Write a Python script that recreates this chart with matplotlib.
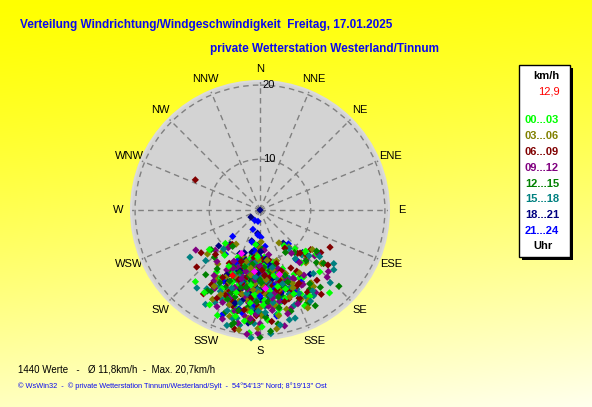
import numpy as np
import matplotlib
matplotlib.use('Agg')
import matplotlib.pyplot as plt
from matplotlib.patches import Rectangle

plt.rcParams['font.family'] = ['Liberation Sans', 'DejaVu Sans']

# %% Data: wind direction (deg) / speed (km/h), grouped by hour band
dir_00 = [178, 185, 192, 170, 200, 165, 210, 188, 175, 160, 195, 182, 172, 205, 215, 158, 168, 190,
          180, 198, 186, 150, 176, 202, 163, 194, 184, 173, 208, 222, 140, 187, 179, 196, 169, 183,
          181, 174, 189, 166, 197, 184, 177, 203, 159, 191, 186, 171, 210, 179, 195, 164, 182, 199, 173, 188,
          154, 206, 176, 192, 168, 185, 201, 180, 162, 214, 187, 175, 196, 170, 183, 152, 209, 178, 193, 167,
          226, 138, 218, 146, 232, 132, 128, 136, 142, 150, 155, 147, 133, 158, 185, 202]
spd_00 = [12.5, 11.0, 13.8, 14.2, 12.0, 10.5, 15.5, 16.8, 9.5, 13.0, 17.5, 8.8, 11.8, 10.2, 13.6, 15.0, 16.2, 9.0,
          14.5, 15.8, 12.8, 14.0, 18.2, 16.5, 12.2, 10.8, 11.5, 13.2, 17.8, 16.4, 17.9, 7.5, 19.0, 13.9, 17.0, 15.2,
          10.4, 11.6, 12.9, 13.4, 11.2, 14.8, 15.6, 12.6, 11.8, 9.8, 16.0, 12.2, 14.0, 13.0, 16.6, 15.8, 10.0, 12.8, 14.4, 18.4,
          16.0, 15.2, 10.8, 11.4, 12.4, 17.2, 13.8, 11.0, 14.6, 16.8, 13.6, 12.0, 15.0, 17.6, 9.4, 13.2, 12.0, 16.2, 18.0, 14.0,
          9.6, 10.2, 11.0, 8.8, 12.0, 11.6, 13.0, 15.0, 12.4, 16.8, 17.6, 14.2, 11.6, 15.6, 19.8, 18.6]

dir_03 = [182, 176, 190, 168, 198, 185, 172, 205, 160, 193, 180, 188, 165, 201, 175, 212, 155, 186,
          170, 196, 183, 178, 208, 162, 191, 174, 199, 187, 145, 218, 181, 167, 194, 179, 189, 203,
          177, 186, 169, 193, 181, 174, 200, 163, 189, 183, 171, 207, 179, 195, 166, 187, 158, 198, 176, 191,
          184, 172, 203, 161, 188, 180, 196, 168, 211, 185, 175, 192, 156, 182, 199, 170, 189, 178, 205, 164,
          222, 142, 230, 135, 215, 150, 131, 139, 145, 152, 157, 127, 148, 154, 172, 190]
spd_03 = [11.5, 13.0, 10.8, 12.6, 14.4, 9.2, 15.8, 11.2, 14.8, 16.0, 8.0, 12.9, 17.2, 13.5, 10.0, 14.2, 16.6, 18.0,
          11.0, 12.2, 15.0, 7.0, 17.0, 10.4, 13.3, 16.3, 9.8, 14.6, 15.4, 12.6, 19.2, 13.8, 11.8, 17.6, 10.2, 15.6,
          12.4, 10.6, 15.2, 13.8, 14.6, 11.8, 12.8, 13.2, 15.6, 9.0, 16.4, 13.6, 12.0, 10.4, 14.4, 17.0, 12.6, 16.8, 14.8, 11.4,
          13.4, 10.0, 14.0, 15.8, 12.2, 16.6, 18.2, 11.6, 15.4, 14.2, 12.8, 15.0, 14.2, 9.8, 13.0, 17.8, 11.2, 13.6, 16.0, 12.4,
          10.8, 9.4, 12.6, 12.2, 8.6, 8.0, 14.4, 12.8, 16.0, 17.2, 14.8, 12.2, 13.4, 18.0, 19.4, 19.6]

dir_06 = [295, 118, 228, 180, 187, 172, 195, 165, 203, 178, 190, 158, 184, 170, 199, 176, 210, 162,
          193, 181, 168, 206, 186, 152, 174, 197, 183, 214, 163, 189, 177, 201, 171, 192, 130, 125,
          183, 175, 191, 167, 198, 186, 179, 204, 160, 194, 181, 172, 209, 188, 164, 196, 177, 185, 154, 202,
          170, 190, 182, 199, 165, 187, 174, 213, 180, 193, 161, 206, 184, 176, 197, 168, 189, 150, 200, 178,
          219, 139, 234, 128, 225, 147, 134, 141, 149, 156, 129, 144, 152, 137]
spd_06 = [13.0, 14.1, 14.9, 12.0, 13.4, 11.2, 14.6, 12.8, 10.6, 15.6, 9.4, 14.0, 16.8, 10.0, 12.4, 13.8, 11.6, 16.0,
          17.4, 8.6, 15.0, 13.0, 11.0, 12.2, 18.4, 16.2, 14.4, 17.0, 10.8, 12.6, 9.8, 15.2, 13.6, 19.6, 14.6, 13.4,
          11.8, 13.2, 12.6, 14.8, 11.4, 15.4, 10.8, 14.2, 15.0, 13.6, 16.4, 12.4, 13.8, 10.2, 13.4, 16.8, 14.6, 12.0, 14.8, 15.8,
          11.6, 14.0, 17.6, 12.8, 16.2, 9.6, 13.0, 15.4, 11.0, 15.0, 12.0, 16.6, 18.2, 12.2, 13.2, 14.4, 17.0, 16.2, 10.6, 11.4,
          9.0, 11.0, 13.2, 12.0, 11.8, 9.2, 12.0, 15.6, 13.0, 16.4, 15.2, 17.4, 14.6, 11.2]

dir_09 = [185, 178, 192, 170, 200, 165, 188, 175, 207, 158, 182, 195, 168, 213, 180, 190, 172, 198,
          162, 186, 176, 204, 154, 193, 181, 169, 209, 187, 146, 197, 179, 220, 174, 191, 184, 166,
          179, 188, 171, 196, 183, 166, 201, 175, 192, 160, 186, 210, 173, 198, 181, 168, 205, 190, 156, 194,
          177, 184, 163, 199, 187, 170, 215, 182, 193, 159, 202, 176, 189, 165, 207, 180, 195, 172, 185, 150,
          228, 136, 220, 144, 238, 130, 127, 135, 143, 151, 158, 146, 132, 154, 168, 186, 199]
spd_09 = [12.2, 14.0, 11.0, 13.6, 15.2, 11.8, 17.8, 10.4, 13.0, 15.4, 9.6, 16.4, 12.0, 14.8, 18.6, 13.2, 16.6, 10.8,
          17.2, 15.0, 11.4, 17.6, 13.8, 14.2, 19.8, 9.2, 12.6, 16.0, 16.8, 13.4, 15.6, 12.4, 8.4, 18.8, 10.0, 14.6,
          13.0, 12.4, 14.6, 12.6, 15.8, 13.4, 11.6, 16.4, 14.0, 12.2, 10.6, 15.6, 17.0, 14.4, 11.8, 16.0, 12.0, 15.2, 15.6, 17.4,
          13.8, 12.8, 11.6, 16.0, 10.2, 14.8, 14.2, 17.4, 11.8, 13.4, 16.8, 12.0, 14.2, 17.8, 11.0, 10.8, 13.0, 15.4, 18.0, 15.0,
          11.4, 12.4, 9.8, 10.4, 13.6, 13.0, 13.2, 16.2, 12.2, 15.0, 17.0, 14.0, 15.8, 13.6, 19.2, 20.0, 18.8]

dir_12 = [180, 134, 220, 183, 176, 190, 168, 197, 172, 186, 160, 204, 179, 193, 165, 211, 188, 174,
          199, 156, 182, 170, 195, 163, 207, 185, 177, 148, 192, 171, 202, 187, 216, 167, 181, 194,
          184, 173, 191, 178, 199, 166, 187, 181, 205, 162, 194, 175, 189, 169, 201, 183, 157, 196, 177, 209,
          186, 171, 192, 164, 180, 198, 174, 213, 188, 159, 203, 182, 195, 168, 176, 190, 153, 185, 200, 179,
          224, 141, 231, 133, 217, 149, 130, 138, 146, 153, 159, 142, 126, 150, 175, 193]
spd_12 = [20.3, 18.1, 14.8, 12.4, 13.6, 10.6, 14.4, 11.8, 16.0, 9.0, 13.2, 14.8, 17.4, 12.8, 15.6, 16.2, 11.2, 10.2,
          18.0, 15.0, 14.0, 12.0, 16.8, 17.6, 12.6, 15.4, 8.2, 16.0, 13.0, 18.8, 10.4, 14.8, 13.2, 11.0, 16.6, 19.2,
          12.2, 14.6, 13.8, 11.4, 15.2, 12.8, 16.6, 10.8, 11.8, 14.6, 14.2, 15.8, 12.4, 16.8, 13.6, 9.6, 16.8, 15.6, 17.8, 14.6,
          13.0, 11.6, 17.2, 14.0, 12.8, 12.2, 15.0, 16.4, 10.6, 12.8, 13.8, 15.8, 11.2, 15.4, 11.0, 14.0, 17.4, 18.4, 16.2, 13.2,
          12.2, 10.6, 11.8, 13.8, 9.2, 9.8, 14.6, 12.6, 15.4, 17.6, 13.8, 16.6, 12.8, 18.2, 19.6, 18.9]

dir_15 = [184, 126, 219, 212, 206, 210, 175, 181, 188, 170, 196, 163, 185, 178, 200, 167, 192, 174,
          157, 203, 183, 171, 189, 197, 152, 179, 186, 165, 194, 173, 208, 160, 190, 177, 199, 182,
          187, 176, 193, 169, 201, 182, 173, 208, 161, 190, 185, 166, 198, 179, 204, 155, 188, 172, 195, 183,
          170, 200, 178, 192, 163, 186, 214, 175, 197, 181, 158, 189, 206, 168, 194, 177, 184, 148, 202, 173,
          227, 137, 223, 143, 236, 129, 133, 140, 147, 155, 128, 144, 151, 136, 170, 196, 162]
spd_15 = [20.4, 15.7, 16.9, 15.2, 17.2, 18.0, 19.9, 13.0, 14.6, 12.6, 16.2, 11.6, 17.0, 10.8, 13.4, 15.8, 18.2, 14.0,
          13.4, 12.0, 11.2, 17.6, 9.8, 14.8, 16.6, 15.4, 12.2, 18.6, 10.6, 13.8, 15.0, 17.0, 19.0, 16.4, 11.4, 14.2,
          12.8, 14.4, 13.6, 14.2, 11.6, 15.6, 13.2, 13.8, 15.4, 11.8, 16.8, 12.8, 17.6, 12.0, 16.4, 15.2, 10.2, 16.0, 13.4, 18.6,
          15.2, 14.6, 11.4, 16.2, 13.8, 10.4, 16.2, 13.0, 12.8, 17.0, 14.6, 14.8, 15.6, 11.2, 18.4, 17.2, 12.4, 17.0, 12.8, 15.0,
          13.4, 11.6, 10.4, 9.6, 14.8, 16.2, 12.4, 14.6, 16.4, 15.8, 13.6, 11.4, 17.4, 17.0, 19.0, 19.4, 18.6]

dir_18 = [0, 232, 186, 195, 178, 190, 172, 200, 184, 168, 193, 180, 205, 175, 188, 163, 197, 182,
          170, 191, 177, 210, 186, 166, 199,
          181, 175, 189, 170, 196, 184, 178, 201, 166, 192, 186, 173, 207, 180, 194, 162, 188, 176, 198, 183,
          169, 191, 179, 204, 187, 172, 195, 182, 158, 200, 221, 145, 229, 135, 148, 156, 142]
spd_18 = [0.0, 3.2, 5.5, 7.0, 8.2, 9.0, 10.2, 11.0, 7.6, 12.4, 13.0, 14.2, 9.6, 11.8, 15.6, 13.4, 16.6, 12.6,
          10.8, 8.8, 17.6, 14.0, 18.6, 15.0, 12.0,
          9.4, 10.6, 11.4, 12.8, 10.2, 13.6, 12.2, 12.6, 13.8, 11.6, 14.8, 9.8, 13.2, 15.4, 14.6, 14.4, 10.0, 16.2, 12.0, 17.2,
          11.0, 15.8, 8.6, 14.0, 13.0, 15.0, 16.4, 11.8, 15.6, 9.2, 9.2, 8.4, 10.6, 11.4, 13.6, 16.4, 14.4]

dir_21 = [207, 190, 200, 185, 178, 194, 172, 188, 182, 198, 176, 205, 168, 192, 185, 180, 196, 174,
          187, 202, 165, 183, 190, 177, 200,
          186, 179, 193, 172, 199, 183, 176, 204, 168, 190, 181, 196, 174, 188, 162, 201, 185, 178, 194, 170,
          187, 180, 207, 166, 192, 175, 198, 183, 171, 189, 226, 140, 218, 138, 150, 157, 144]
spd_21 = [3.2, 3.2, 5.0, 5.8, 6.2, 7.2, 7.8, 8.4, 9.2, 10.0, 10.6, 11.4, 12.0, 12.8, 13.6, 11.2, 14.4, 9.8,
          15.4, 13.0, 14.8, 16.2, 17.4, 12.4, 18.4,
          8.8, 9.6, 10.4, 11.0, 11.8, 12.2, 13.0, 10.8, 13.6, 14.0, 14.6, 12.0, 15.2, 10.2, 13.2, 15.8, 16.6, 11.6, 13.4, 14.4,
          12.6, 15.0, 14.2, 16.0, 17.0, 12.8, 16.8, 9.8, 17.8, 11.2, 8.0, 9.0, 10.8, 12.6, 14.6, 15.6, 11.6]

# last hour (highlighted) and current value
dir_last = [204, 163, 186, 176]
spd_last = [9.5, 12.3, 11.6, 14.0]
dir_now = [203]
spd_now = [12.9]

bands = ['00...03', '03...06', '06...09', '09...12', '12...15', '15...18', '18...21', '21...24']
band_colors = ['#00ff00', '#808000', '#800000', '#800080', '#008000', '#008080', '#000080', '#0000ff']
band_dirs = [dir_00, dir_03, dir_06, dir_09, dir_12, dir_15, dir_18, dir_21]
band_spds = [spd_00, spd_03, spd_06, spd_09, spd_12, spd_15, spd_18, spd_21]

compass = ['N', 'NNE', 'NE', 'ENE', 'E', 'ESE', 'SE', 'SSE',
           'S', 'SSW', 'SW', 'WSW', 'W', 'WNW', 'NW', 'NNW']
rings = [10, 20]
r_max = 20.5
n_values = 1440
mean_speed = '11,8'
max_speed = '20,7'
now_speed = '12,9'

# interleave the hour bands so that no colour sits entirely on top
pts_dir, pts_spd, pts_col = [], [], []
for i in range(max(len(d) for d in band_dirs)):
    for d, s, c in zip(band_dirs, band_spds, band_colors):
        if i < len(d):
            pts_dir.append(d[i])
            pts_spd.append(s[i])
            pts_col.append(c)

# %% Figure
W, H = 592, 407
fig = plt.figure(figsize=(W / 100, H / 100), dpi=100)

# yellow gradient background
bg = fig.add_axes([0, 0, 1, 1], zorder=0)
yy, xx = np.mgrid[0:1:200j, 0:1:200j]
t = np.clip(0.85 * yy + 0.15 * xx, 0, 1) ** 1.3
img = np.dstack([np.ones_like(t), np.ones_like(t), 0.93 * t])
bg.imshow(img, aspect='auto', extent=[0, 1, 0, 1], origin='upper')
bg.set_axis_off()

# polar rose, centre (260,210), radius 129 px
cx, cy, rad = 260, 210, 129
ax = fig.add_axes([(cx - rad) / W, (H - cy - rad) / H, 2 * rad / W, 2 * rad / H],
                  projection='polar', zorder=1)
ax.set_theta_zero_location('N')
ax.set_theta_direction(-1)
p = 1.3
ax.set_rscale('function', functions=(lambda r: np.sign(r) * np.abs(r) ** p,
                                     lambda r: np.sign(r) * np.abs(r) ** (1 / p)))
ax.set_rlim(0, r_max)
ax.set_facecolor('#d3d3d3')
ax.spines['polar'].set_color('#dadada')
ax.spines['polar'].set_linewidth(1.5)

ax.set_thetagrids(np.arange(0, 360, 22.5), labels=compass, fontsize=8)
ax.tick_params(axis='x', pad=-1.5)
ax.set_rgrids(rings, labels=[''] * len(rings))
ax.grid(True, color='#808080', linestyle=(0, (4, 3)), linewidth=1)
for rv in rings:
    ax.annotate(str(rv), (0, rv), xytext=(2, 0), textcoords='offset points',
                ha='left', va='center', fontsize=8)

ax.scatter(np.deg2rad(pts_dir), pts_spd, c=pts_col, marker='D', s=3.7 ** 2, linewidths=0,
           clip_on=False, zorder=3)
ax.scatter(np.deg2rad(dir_last), spd_last, c='#ff00ff', marker='D', s=3.7 ** 2, linewidths=0, zorder=3)
ax.scatter(np.deg2rad(dir_now), spd_now, c='#ff0000', marker='D', s=3.7 ** 2, linewidths=0, zorder=3)

# %% Texts
blue = '#0a0aee'
fig.text(20 / W, 1 - 25 / H, 'Verteilung Windrichtung/Windgeschwindigkeit  Freitag, 17.01.2025',
         color=blue, fontsize=8.5, fontweight='bold', va='center', ha='left')
fig.text(210 / W, 1 - 49 / H, 'private Wetterstation Westerland/Tinnum',
         color=blue, fontsize=8.5, fontweight='bold', va='center', ha='left')
fig.text(18 / W, 1 - 369 / H,
         f'{n_values} Werte   -   Ø {mean_speed}km/h  -  Max. {max_speed}km/h',
         color='black', fontsize=7, va='center', ha='left')
fig.text(18 / W, 1 - 386 / H,
         "© WsWin32  -  © private Wetterstation Tinnum/Westerland/Sylt  -  54°54'13'' Nord; 8°19'13'' Ost",
         color=blue, fontsize=5.3, va='center', ha='left')

# %% Legend box
bx0, bx1, by0, by1 = 519, 570, 65, 257
fig.patches.append(Rectangle(((bx0 + 3) / W, 1 - (by1 + 3) / H), (bx1 - bx0) / W, (by1 - by0) / H,
                             transform=fig.transFigure, facecolor='black', edgecolor='none', zorder=2))
fig.patches.append(Rectangle((bx0 / W, 1 - by1 / H), (bx1 - bx0) / W, (by1 - by0) / H,
                             transform=fig.transFigure, facecolor='white', edgecolor='black',
                             linewidth=1, zorder=3))
fig.text(546 / W, 1 - 76 / H, 'km/h', fontsize=8, fontweight='bold', ha='center', va='center', zorder=4)
fig.text(560 / W, 1 - 91 / H, now_speed, fontsize=8, color='#ff0000', ha='right', va='center', zorder=4)
for i, (lab, c) in enumerate(zip(bands, band_colors)):
    fig.text(542 / W, 1 - (120 + 15.9 * i) / H, lab, fontsize=8, fontweight='bold', color=c,
             ha='center', va='center', zorder=4)
fig.text(543 / W, 1 - 246 / H, 'Uhr', fontsize=8, fontweight='bold', ha='center', va='center', zorder=4)

fig.savefig('out.png', dpi=100)
